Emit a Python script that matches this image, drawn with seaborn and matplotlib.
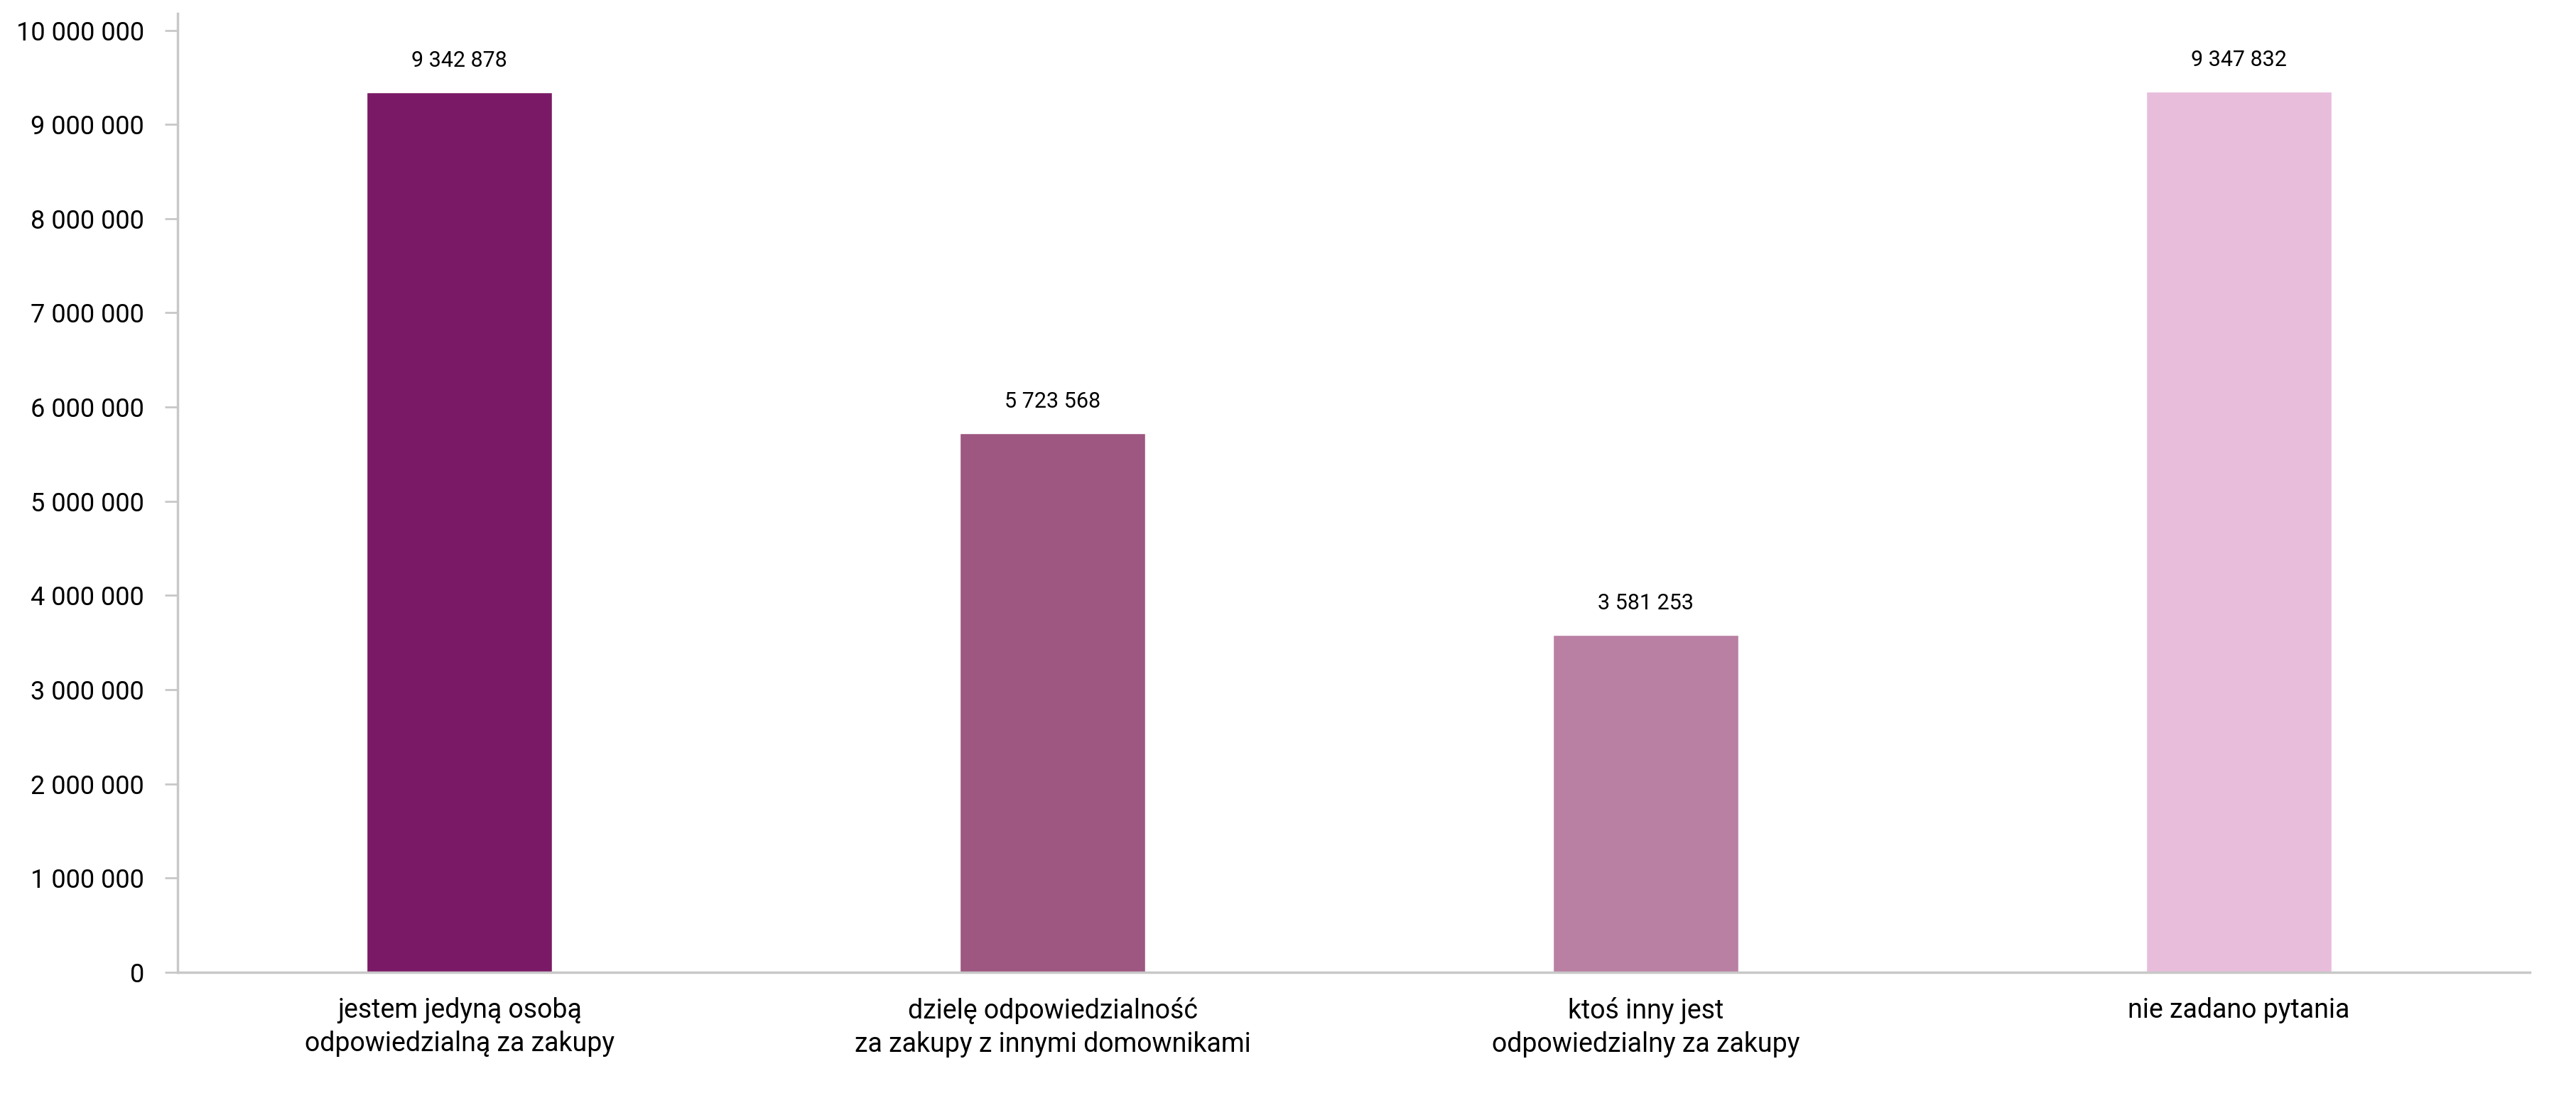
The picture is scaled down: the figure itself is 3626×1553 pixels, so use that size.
import matplotlib
matplotlib.use("Agg")
import matplotlib.pyplot as plt
import seaborn as sns
import pandas as pd
from matplotlib.ticker import FuncFormatter, MultipleLocator

categories = [
    "jestem jedyną osobą\nodpowiedzialną za zakupy",
    "dzielę odpowiedzialność\nza zakupy z innymi domownikami",
    "ktoś inny jest\nodpowiedzialny za zakupy",
    "nie zadano pytania",
]
values = [9342878, 5723568, 3581253, 9347832]
colors = ["#7a1a66", "#9d5781", "#b980a3", "#e8bddb"]

sns.set_theme(style="white")
plt.rcParams["font.family"] = ["Roboto", "DejaVu Sans"]

fig = plt.figure(figsize=(36.26, 15.53), dpi=100, facecolor="white")
ax = fig.add_axes([0.069, 0.1185, 0.913, 0.8695])

df = pd.DataFrame({"cat": categories, "val": values})
sns.barplot(data=df, x="cat", y="val", hue="cat", palette=colors, legend=False,
            width=0.313, saturation=1, ax=ax)

ax.set_xlim(-0.475, 3.49)
ax.set_ylim(0, 10180000)
ax.yaxis.set_major_locator(MultipleLocator(1000000))
ax.yaxis.set_major_formatter(FuncFormatter(lambda v, p: f"{int(v):,}".replace(",", " ")))

for s in ["top", "right"]:
    ax.spines[s].set_visible(False)
for s in ["left", "bottom"]:
    ax.spines[s].set_color("#c8c8c8")
    ax.spines[s].set_linewidth(2.5)

ax.tick_params(axis="y", left=True, length=13, width=2, color="#c8c8c8",
               pad=21, labelsize=26, labelcolor="black")
ax.tick_params(axis="x", bottom=False, length=0, pad=25, labelsize=27, labelcolor="black")
for lbl in ax.get_xticklabels():
    lbl.set_linespacing(1.35)
ax.set_xlabel("")
ax.set_ylabel("")

for i, v in enumerate(values):
    ax.annotate(f"{v:,}".replace(",", " "), xy=(i, v), xytext=(0, 32),
                textcoords="offset points", ha="center", va="center",
                fontsize=22, color="black")

fig.savefig("out.png", dpi=100, facecolor="white")
